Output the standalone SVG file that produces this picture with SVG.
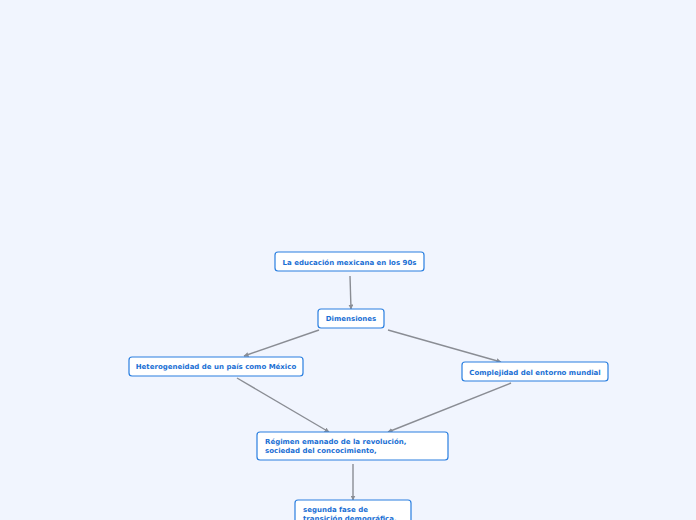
<svg xmlns="http://www.w3.org/2000/svg" width="696" height="520" viewBox="0 0 696 520">
<defs>
<style>
.box{fill:#ffffff;stroke:#2a7fe0;stroke-width:1.2}
.t{font-family:"DejaVu Sans",Verdana,sans-serif;font-size:7px;font-weight:bold;fill:#1a6fd4}
.c{stroke:#8a8d94;stroke-width:1.4;fill:none;marker-end:url(#ah)}
</style>
<marker id="ah" viewBox="0 0 10 10" refX="9" refY="5" markerWidth="5" markerHeight="5" orient="auto" markerUnits="userSpaceOnUse">
<path d="M0,0 L10,5 L0,10 z" fill="#8a8d94"/>
</marker>
</defs>
<rect width="696" height="520" fill="#f1f5fe"/>
<g id="connectors">
<line class="c" x1="350" y1="276" x2="351" y2="309"/>
<line class="c" x1="319" y1="330" x2="244" y2="356"/>
<line class="c" x1="388" y1="330" x2="501" y2="362"/>
<line class="c" x1="237" y1="378" x2="329" y2="432"/>
<line class="c" x1="511" y1="383" x2="388" y2="432"/>
<line class="c" x1="353" y1="464" x2="353" y2="500"/>
</g>
<g id="n1"><rect class="box" x="275" y="252" width="149" height="19" rx="3"/><text class="t" x="349.5" y="264.5" text-anchor="middle">La educación mexicana en los 90s</text></g>
<g id="n2"><rect class="box" x="318" y="309" width="66" height="19" rx="3"/><text class="t" x="351" y="321" text-anchor="middle">Dimensiones</text></g>
<g id="n3"><rect class="box" x="129" y="357" width="174" height="19" rx="3"/><text class="t" x="216" y="369" text-anchor="middle">Heterogeneidad de un país como México</text></g>
<g id="n4"><rect class="box" x="462" y="362" width="146" height="19" rx="3"/><text class="t" x="535" y="374.5" text-anchor="middle">Complejidad del entorno mundial</text></g>
<g id="n5"><rect class="box" x="257" y="432" width="191" height="28" rx="3"/><text class="t" x="265" y="444">Régimen emanado de la revolución,</text><text class="t" x="265" y="453">sociedad del concocimiento,</text></g>
<g id="n6"><rect class="box" x="295" y="500" width="116" height="28" rx="3"/><text class="t" x="303" y="512">segunda fase de</text><text class="t" x="303" y="520.5">transición demográfica,</text></g>
</svg>
